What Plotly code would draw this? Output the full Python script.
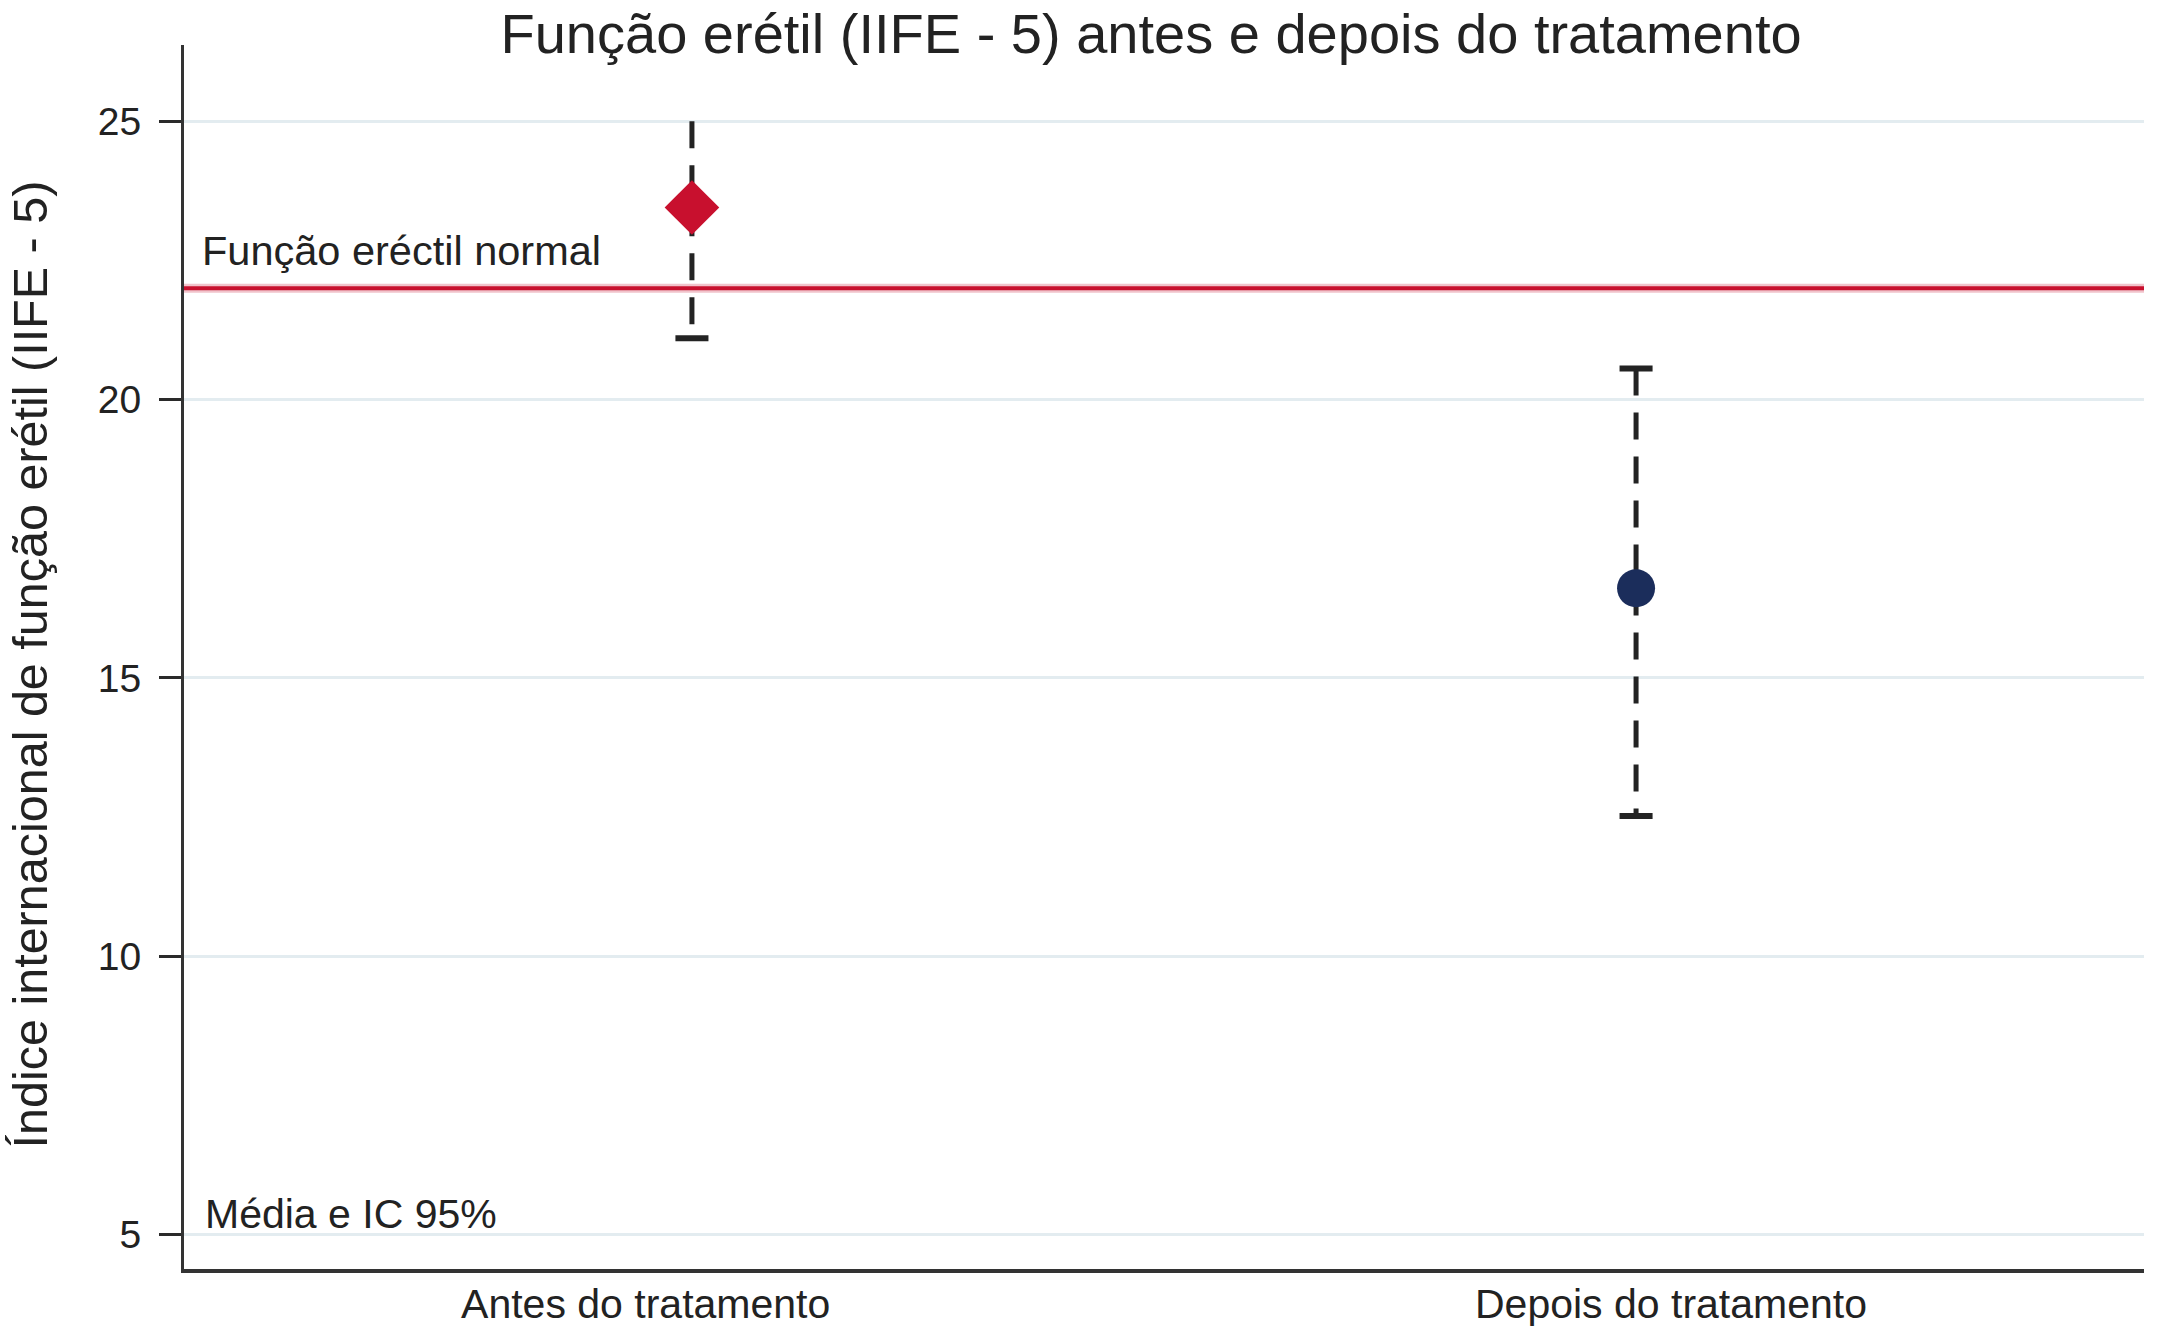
import plotly.graph_objects as go

# ---------------- data ----------------
categories = ["Antes do tratamento", "Depois do tratamento"]
mean_iief = [23.45, 16.61]
ci_lower = [21.10, 12.52]
ci_upper = [25.00, 20.56]
upper_cap = [False, True]          # upper limit of "Antes" truncated at the scale maximum
normal_threshold = 22
y_ticks = [5, 10, 15, 20, 25]

# ---------------- styles ----------------
FONT = "Liberation Sans, Arial, Helvetica, sans-serif"
TXT = "#222222"
RED = "#c8102e"
NAVY = "#1b2d5b"
WHISKER = "#232323"
CAP_HALF = 0.0175
marker_symbols = ["diamond", "circle"]
marker_colors = [RED, NAVY]
marker_sizes = [42, 38]
label_shift = [-0.049, 0.037]

fig = go.Figure()

xs = list(range(len(categories)))

# whiskers (dashed), drawn from the upper limit downwards
for i in xs:
    fig.add_trace(go.Scatter(
        x=[i, i], y=[ci_upper[i], ci_lower[i]], mode="lines",
        line=dict(color=WHISKER, width=5, dash="27px,17px"),
        hoverinfo="skip", showlegend=False))

# caps
for i in xs:
    fig.add_trace(go.Scatter(
        x=[i - CAP_HALF, i + CAP_HALF], y=[ci_lower[i], ci_lower[i]], mode="lines",
        line=dict(color=WHISKER, width=6), hoverinfo="skip", showlegend=False))
    if upper_cap[i]:
        fig.add_trace(go.Scatter(
            x=[i - CAP_HALF, i + CAP_HALF], y=[ci_upper[i], ci_upper[i]], mode="lines",
            line=dict(color=WHISKER, width=6), hoverinfo="skip", showlegend=False))

# means
for i in xs:
    fig.add_trace(go.Scatter(
        x=[i], y=[mean_iief[i]], mode="markers",
        marker=dict(symbol=marker_symbols[i], size=marker_sizes[i],
                    color=marker_colors[i], line=dict(width=0)),
        name=categories[i], showlegend=False))

# normal erectile function reference line
fig.add_shape(type="line", xref="paper", x0=0, x1=1, yref="y",
              y0=normal_threshold, y1=normal_threshold,
              line=dict(color="rgba(200,16,46,0.25)", width=9), layer="below")
fig.add_shape(type="line", xref="paper", x0=0, x1=1, yref="y",
              y0=normal_threshold, y1=normal_threshold,
              line=dict(color=RED, width=4), layer="above")

fig.add_annotation(text="Função eréctil normal", xref="paper", x=0.008, xanchor="left",
                   yref="y", y=22.67, yanchor="middle", showarrow=False,
                   font=dict(family=FONT, size=41.5, color=TXT))
fig.add_annotation(text="Média e IC 95%", xref="paper", x=0.0097, xanchor="left",
                   yref="y", y=5.37, yanchor="middle", showarrow=False,
                   font=dict(family=FONT, size=41, color=TXT))
fig.add_annotation(text="Índice internacional de função erétil (IIFE - 5)",
                   xref="paper", x=-0.0785, xanchor="center",
                   yref="paper", y=0.494, yanchor="middle", textangle=-90,
                   showarrow=False, font=dict(family=FONT, size=48.5, color=TXT))

fig.update_layout(
    width=2158, height=1337,
    paper_bgcolor="white", plot_bgcolor="white",
    margin=dict(l=184, r=14, t=45, b=68, autoexpand=False),
    font=dict(family=FONT, color=TXT),
    title=dict(text="Função erétil (IIFE - 5) antes e depois do tratamento",
               xref="paper", x=0.4934, xanchor="center",
               yref="container", y=0.9748, yanchor="middle",
               font=dict(family=FONT, size=56, color=TXT)),
    showlegend=False,
)

fig.update_yaxes(range=[4.38, 26.37], tickmode="array", tickvals=y_ticks,
                 ticks="outside", ticklen=22, tickwidth=3, tickcolor="#2a2a2a",
                 ticklabelstandoff=10,
                 showline=True, linecolor="#333333", linewidth=3,
                 showgrid=True, gridcolor="#e3ecf0", gridwidth=3,
                 zeroline=False, tickfont=dict(family=FONT, size=39, color=TXT))

fig.update_xaxes(range=[-0.538, 1.538], tickmode="array",
                 tickvals=[i + label_shift[i] for i in xs], ticktext=categories,
                 ticks="", ticklabelstandoff=-4,
                 showline=True, linecolor="#333333", linewidth=4,
                 showgrid=False, zeroline=False,
                 tickfont=dict(family=FONT, size=41, color=TXT))

# remove the default page margin so the figure sits at the window's top-left corner
fig.write_html("out.html", config={"displayModeBar": False},
               post_script="document.body.style.margin='0';document.body.style.overflow='hidden';")
